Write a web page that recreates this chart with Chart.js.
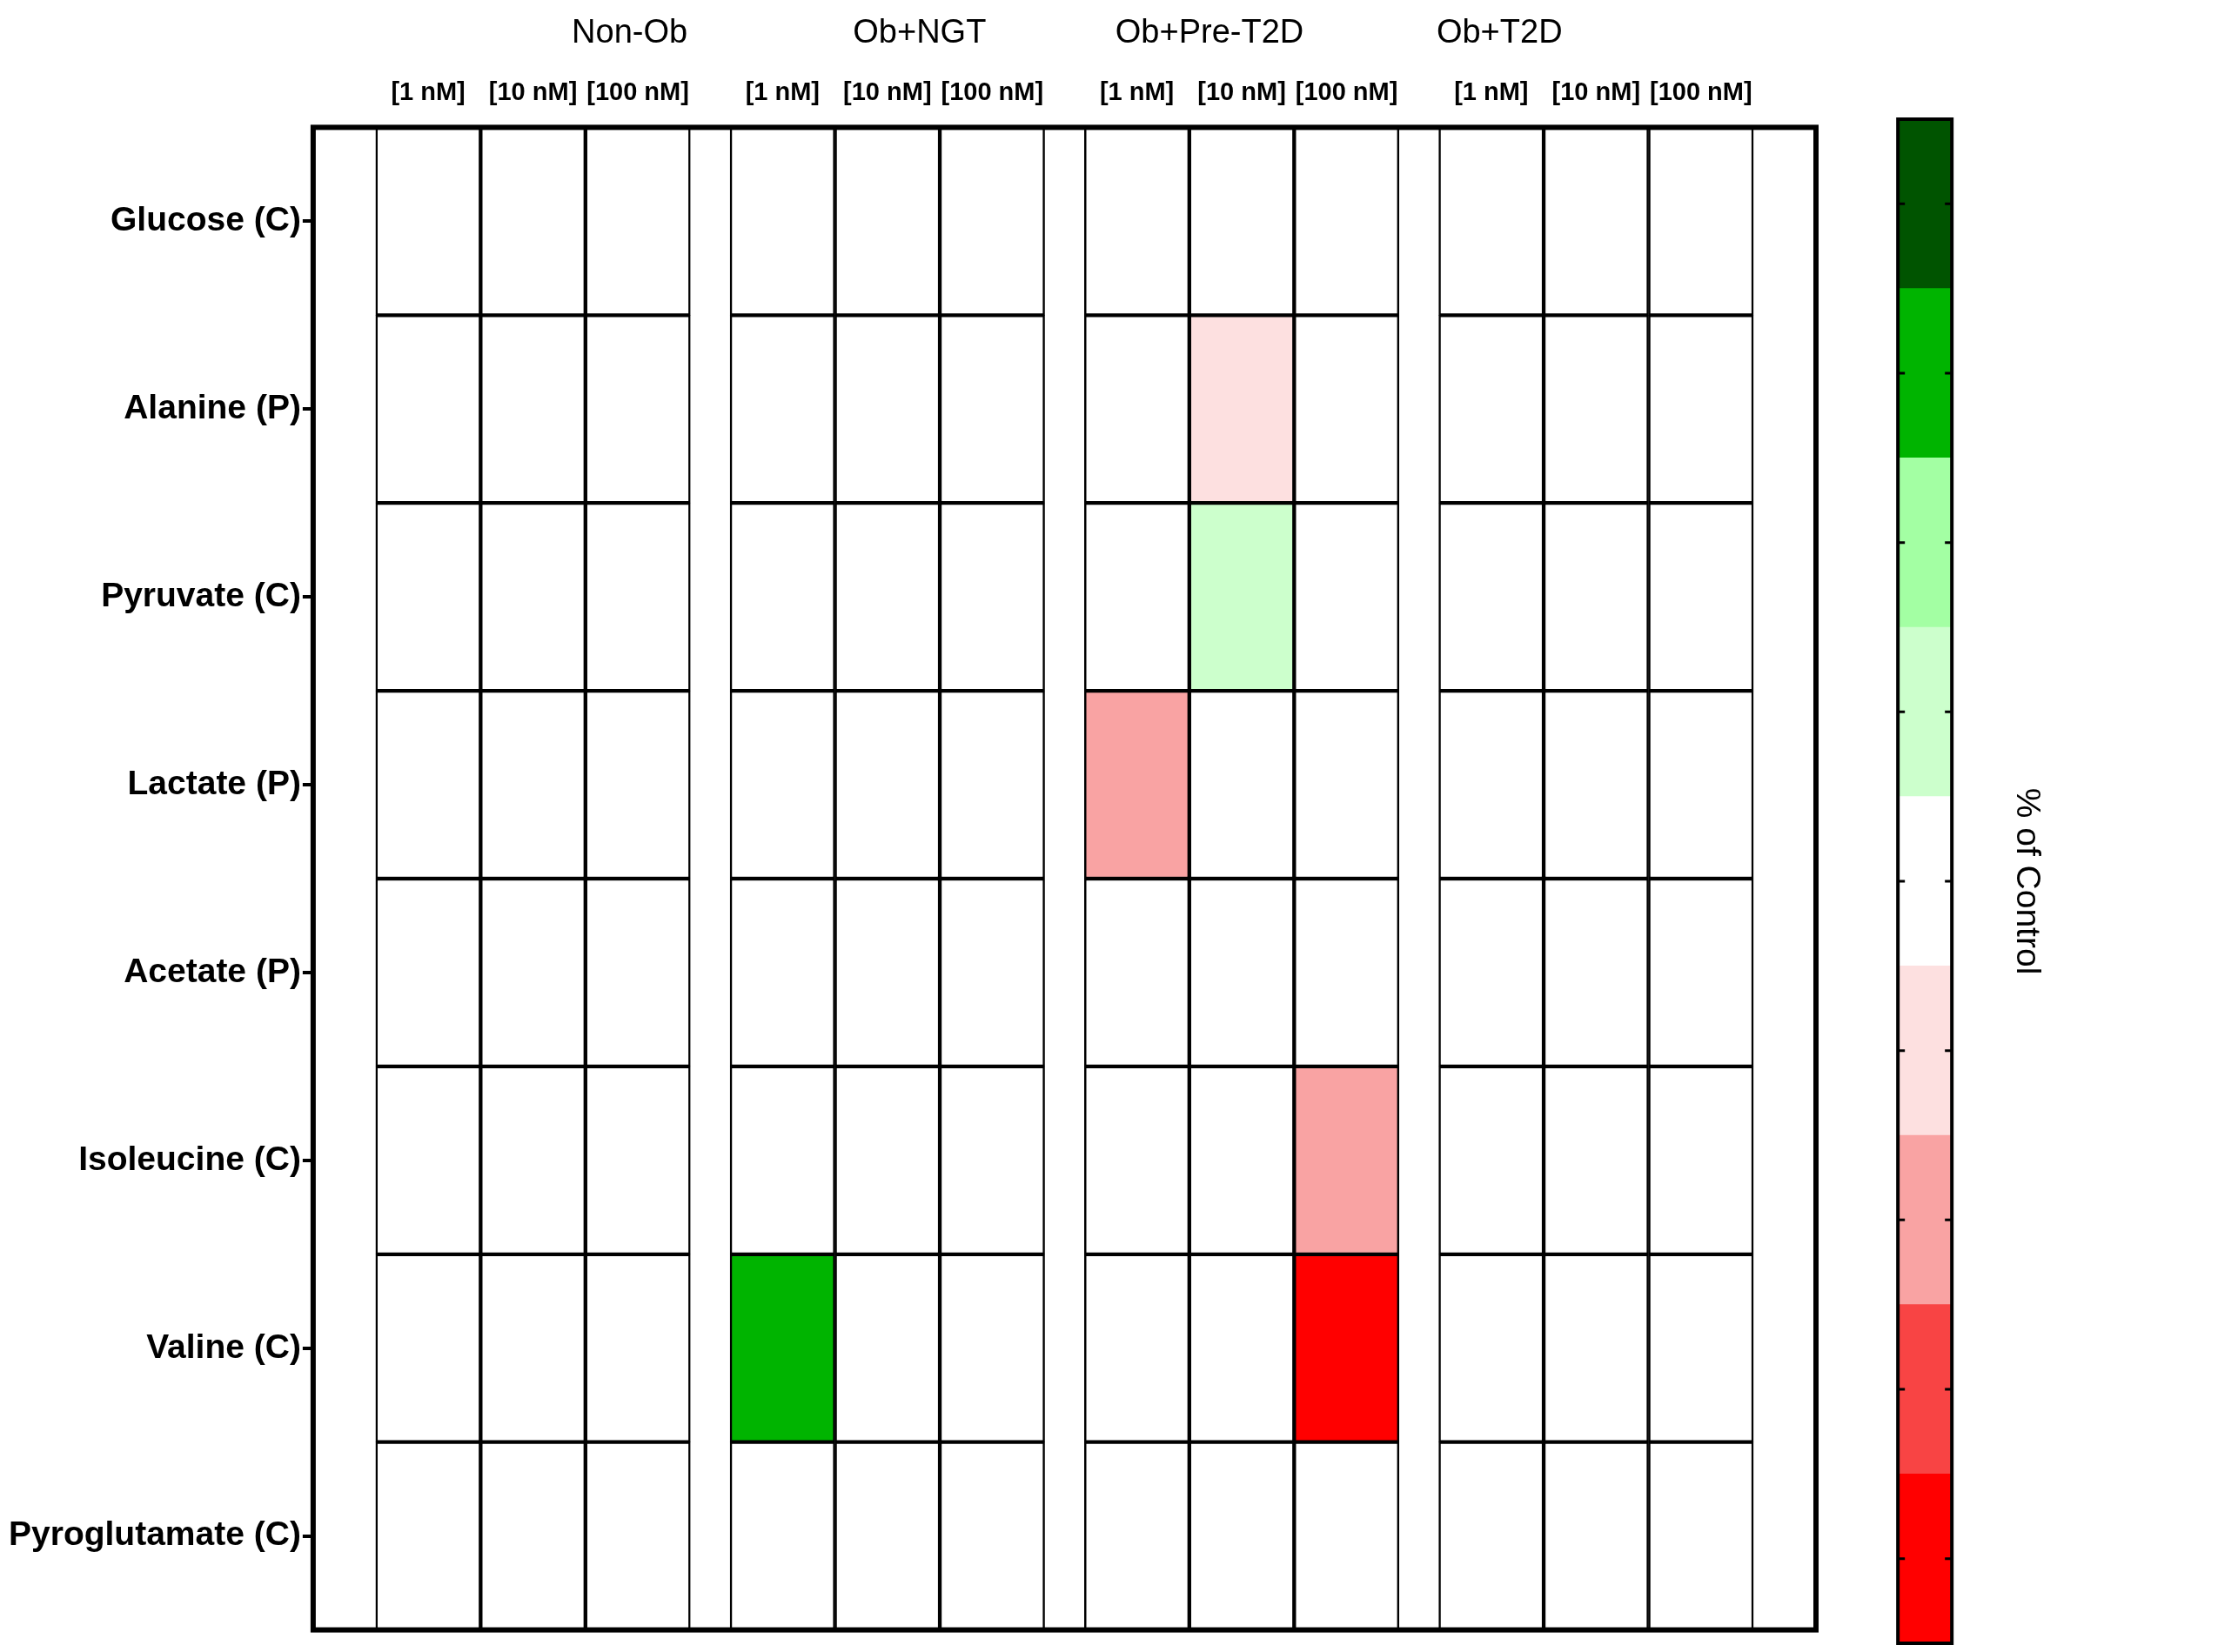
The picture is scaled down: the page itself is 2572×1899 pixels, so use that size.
<!DOCTYPE html>
<html>
<head>
<meta charset="utf-8">
<script src="https://cdn.jsdelivr.net/npm/chart.js@4.4.1/dist/chart.umd.min.js"></script>
<style>
  body { margin: 0; background: #fff; width: 2572px; height: 1899px; overflow: hidden; }
  #heat { position: absolute; left: 0; top: 0; width: 2110px; height: 1899px; }
  #bar { position: absolute; left: 2110px; top: 0; width: 462px; height: 1899px; }
</style>
</head>
<body>
<div id="heat"><canvas id="heatmap"></canvas></div>
<div id="bar"><canvas id="legendBar"></canvas></div>
<script>
// rows of the heatmap (top to bottom)
const metabolites = ['Glucose (C)', 'Alanine (P)', 'Pyruvate (C)', 'Lactate (P)', 'Acetate (P)', 'Isoleucine (C)', 'Valine (C)', 'Pyroglutamate (C)'];
const groups = ['Non-Ob', 'Ob+NGT', 'Ob+Pre-T2D', 'Ob+T2D'];
const doses = ['[1 nM]', '[10 nM]', '[100 nM]'];

// colour scale, from top (> 80 %) to bottom (< -80 %)
const levelLabels = ['> 80 %', '60 to 80 %', '40 to 60 %', '0 to 40 %', 'NS', '0 to \u221240 %', '\u221240 to \u221260 %', '\u221260 to \u221280 %', '< \u221280 %'];
const levelColors = ['#005400', '#00b400', '#a3ffa3', '#ccffcc', '#ffffff', '#fde0e0', '#f9a3a3', '#f84444', '#ff0000'];

// level per cell: row -> 12 columns (4 groups x 3 doses); 4 = NS
const cellLevels = [
  [4,4,4, 4,4,4, 4,4,4, 4,4,4],
  [4,4,4, 4,4,4, 4,5,4, 4,4,4],
  [4,4,4, 4,4,4, 4,3,4, 4,4,4],
  [4,4,4, 4,4,4, 6,4,4, 4,4,4],
  [4,4,4, 4,4,4, 4,4,4, 4,4,4],
  [4,4,4, 4,4,4, 4,4,6, 4,4,4],
  [4,4,4, 1,4,4, 4,4,8, 4,4,4],
  [4,4,4, 4,4,4, 4,4,4, 4,4,4]
];

const GAP = 0.38; // empty space between groups, in column widths
const colPos = [];
const colLabel = [];
groups.forEach((g, gi) => doses.forEach((d, di) => { colPos.push(gi * (3 + GAP) + di); colLabel.push(d); }));
const groupCenters = groups.map((g, gi) => gi * (3 + GAP) + 1);
const xMax = colPos[colPos.length - 1] + 0.5;
const font = 'Arial, Liberation Sans';

const heatData = metabolites.map((m, r) => ({
  label: m,
  data: colPos.map(x => ({ x: x, y: [r - 0.5, r + 0.5] })),
  backgroundColor: colPos.map((x, c) => levelColors[cellLevels[r][c]]),
  borderColor: '#000',
  borderWidth: 2.5,
  borderSkipped: false,
  barPercentage: 1,
  categoryPercentage: 1,
  grouped: false
}));

new Chart(document.getElementById('heatmap'), {
  type: 'bar',
  data: { datasets: heatData },
  options: {
    responsive: true, maintainAspectRatio: false, animation: false,
    layout: { padding: { left: 8, right: 23, top: 10, bottom: 8 } },
    plugins: { legend: { display: false }, tooltip: { enabled: false } },
    scales: {
      x: {
        type: 'linear', position: 'top', min: -0.5, max: xMax,
        grid: { display: false }, border: { display: false },
        afterBuildTicks: axis => { axis.ticks = colPos.map(v => ({ value: v })); },
        ticks: { color: '#000', font: { family: font, size: 29, weight: 'bold' }, maxRotation: 0, autoSkip: false, padding: 14,
          callback: v => colLabel[colPos.indexOf(v)] }
      },
      x2: {
        type: 'linear', position: 'top', min: -0.5, max: xMax,
        grid: { display: false }, border: { display: false },
        afterBuildTicks: axis => { axis.ticks = groupCenters.map(v => ({ value: v })); },
        ticks: { color: '#000', font: { family: font, size: 38 }, padding: 6,
          callback: v => groups[groupCenters.indexOf(v)] }
      },
      y: {
        type: 'linear', reverse: true, min: -0.5, max: metabolites.length - 0.5,
        grid: { drawOnChartArea: false, color: '#000', lineWidth: 4, tickLength: 12 },
        border: { display: false },
        afterBuildTicks: axis => { axis.ticks = metabolites.map((m, i) => ({ value: i })); },
        ticks: { color: '#000', font: { family: font, size: 39, weight: 'bold' }, padding: 2,
          callback: v => metabolites[v] }
      }
    }
  },
  plugins: [{
    id: 'frame',
    afterDatasetsDraw(chart) {
      const a = chart.chartArea, c = chart.ctx;
      c.save(); c.strokeStyle = '#000'; c.lineWidth = 6;
      c.strokeRect(a.left, a.top, a.right - a.left, a.bottom - a.top);
      c.restore();
    }
  }]
});

// colour bar legend: bar sits at the left of a wide chart area, labels mirrored inside
const barLevels = levelLabels.slice().reverse();
new Chart(document.getElementById('legendBar'), {
  type: 'bar',
  data: {
    datasets: barLevels.map((l, i) => ({
      label: l, data: [{ x: 0.5, y: [i, i + 1] }],
      backgroundColor: levelColors[levelColors.length - 1 - i],
      borderWidth: 0, barThickness: 62, grouped: false
    }))
  },
  options: {
    responsive: true, maintainAspectRatio: false, animation: false,
    layout: { padding: { left: 54, right: 8, top: 137, bottom: 10 } },
    plugins: { legend: { display: false }, tooltip: { enabled: false } },
    scales: {
      x: { type: 'linear', display: false, min: 0, max: 6 },
      y: {
        type: 'linear', position: 'left', min: 0, max: levelLabels.length,
        grid: { drawOnChartArea: false, drawTicks: false },
        border: { display: false },
        afterBuildTicks: axis => { axis.ticks = barLevels.map((l, i) => ({ value: i + 0.5 })); },
        ticks: { mirror: true, color: '#000', font: { family: font, size: 37 }, padding: -104,
          callback: v => barLevels[Math.round(v - 0.5)] }
      },
      y2: {
        type: 'linear', position: 'right', min: 0, max: 1,
        grid: { display: false }, border: { display: false },
        ticks: { display: false },
        title: { display: true, text: '% of Control', color: '#000', font: { family: font, size: 39 }, padding: 4 }
      }
    }
  },
  plugins: [{
    id: 'frame',
    afterDatasetsDraw(chart) {
      const c = chart.ctx;
      const first = chart.getDatasetMeta(0).data[0];
      const last = chart.getDatasetMeta(barLevels.length - 1).data[0];
      const w = first.width;
      const top = Math.min(last.y, last.base), bottom = Math.max(first.y, first.base);
      c.save(); c.strokeStyle = '#000'; c.lineWidth = 4;
      c.strokeRect(first.x - w / 2, top, w, bottom - top);
      c.lineWidth = 3;
      barLevels.forEach((l, i) => {
        const y = chart.scales.y.getPixelForValue(i + 0.5);
        c.beginPath();
        c.moveTo(first.x - w / 2, y); c.lineTo(first.x - w / 2 + 8, y);
        c.moveTo(first.x + w / 2 - 8, y); c.lineTo(first.x + w / 2, y);
        c.stroke();
      });
      c.restore();
    }
  }]
});
</script>
</body>
</html>
